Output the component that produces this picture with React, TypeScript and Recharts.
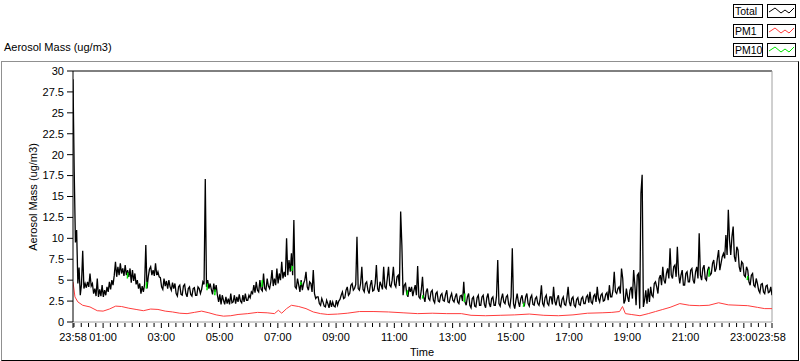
import React from 'react';
import { LineChart, Line, XAxis, YAxis, ReferenceLine } from 'recharts';

const FONT = '"Liberation Sans", Arial, sans-serif';

// Total aerosol mass, one reading every 2.5 min from 23:58 (minute 0); one row per hour
const TOTAL_STEP = 2.5;
const TOTAL = [
  29, 18, 9.5, 11, 4.6, 6.5, 3.2, 4.5, 8.5, 4.0, 4.6, 4.1, 4.8, 4.2, 5.8, 4.3, 4.6, 3.4, 4.0, 3.1, 5.2, 3.0, 3.9, 3.1,
  4.4, 3.0, 3.8, 3.2, 4.2, 3.6, 4.8, 3.9, 5.0, 4.4, 5.6, 7.2, 5.4, 6.6, 5.6, 7.0, 5.8, 6.4, 5.5, 6.8, 5.6, 6.2, 5.4, 6.4,
  4.7, 6.2, 4.9, 5.8, 4.5, 5.0, 4.0, 4.6, 3.4, 4.3, 3.6, 4.5, 9.2, 4.0, 5.4, 6.3, 6.6, 5.6, 6.2, 5.5, 7.0, 5.6, 6.0, 5.4,
  5.3, 4.2, 3.9, 5.2, 4.3, 4.9, 4.0, 5.0, 4.2, 3.8, 4.7, 4.0, 4.6, 3.4, 3.1, 4.2, 4.4, 3.3, 3.2, 4.3, 4.5, 3.4, 3.0, 4.0,
  4.2, 3.3, 3.1, 4.0, 4.1, 3.2, 3.2, 4.2, 4.0, 3.4, 3.9, 4.8, 4.5, 17.1, 4.2, 5.0, 4.0, 4.6, 3.9, 3.3, 4.6, 3.6, 4.4, 3.2,
  2.4, 3.3, 2.1, 3.2, 2.6, 2.1, 3.0, 2.2, 2.8, 2.1, 3.4, 2.3, 2.4, 3.2, 2.2, 3.0, 2.4, 3.3, 2.5, 2.3, 3.2, 2.4, 3.4, 2.6,
  2.6, 3.2, 2.9, 3.6, 3.4, 4.4, 3.5, 4.8, 3.8, 3.6, 5.0, 3.9, 3.7, 5.8, 4.0, 3.8, 5.2, 4.3, 4.0, 4.8, 6.2, 4.3, 5.2, 4.4,
  6.4, 4.6, 5.8, 5.0, 7.2, 5.2, 6.0, 5.4, 10.0, 5.6, 7.4, 6.0, 8.2, 5.6, 12.2, 4.2, 4.0, 5.2, 4.4, 3.6, 5.0, 3.8, 4.6, 5.0,
  6.0, 4.2, 3.8, 4.8, 4.6, 3.6, 6.2, 3.4, 2.8, 3.0, 3.0, 2.2, 2.0, 2.8, 2.4, 1.9, 1.8, 2.6, 2.2, 1.7, 2.6, 1.8, 2.4, 1.9,
  1.8, 2.6, 2.0, 2.5, 2.7, 3.2, 3.6, 2.8, 2.9, 3.8, 4.2, 3.2, 3.4, 4.4, 4.6, 3.8, 4.0, 4.5, 10.2, 4.0, 3.8, 4.6, 6.6, 3.9,
  3.6, 4.6, 4.8, 3.8, 3.4, 4.4, 5.0, 3.7, 3.8, 4.6, 6.8, 4.0, 3.6, 4.8, 4.4, 3.9, 6.6, 4.2, 4.0, 5.2, 6.6, 4.4, 4.2, 5.0,
  6.6, 4.5, 4.2, 5.4, 5.6, 4.3, 13.2, 9.2, 3.2, 4.4, 4.6, 3.4, 3.0, 4.2, 3.6, 4.2, 3.1, 3.8, 4.4, 3.2, 6.7, 3.0, 2.8, 3.8,
  5.4, 3.0, 2.4, 3.6, 4.0, 2.8, 2.6, 3.6, 3.8, 2.6, 2.3, 3.4, 3.6, 2.5, 2.4, 3.2, 3.4, 2.6, 2.5, 3.3, 3.8, 2.4, 2.3, 3.0,
  3.4, 2.6, 2.4, 3.0, 3.4, 2.4, 2.2, 3.1, 3.2, 2.5, 4.8, 2.4, 2.0, 3.0, 3.4, 2.0, 1.7, 2.8, 3.0, 1.9, 1.8, 2.9, 3.2, 2.0,
  2.0, 3.0, 3.2, 2.1, 1.7, 2.9, 3.4, 2.2, 1.8, 2.8, 3.0, 2.0, 2.0, 3.1, 7.4, 2.2, 1.9, 2.8, 3.4, 2.4, 2.2, 3.0, 3.2, 2.1,
  1.8, 3.0, 8.8, 2.2, 1.6, 2.6, 3.4, 2.4, 1.8, 2.8, 3.2, 2.2, 2.0, 3.0, 3.4, 2.2, 1.9, 2.9, 3.2, 2.1, 2.0, 2.8, 3.0, 2.2,
  2.0, 2.8, 4.4, 2.2, 1.9, 2.9, 3.2, 2.2, 2.0, 3.0, 3.0, 2.1, 4.2, 2.5, 2.0, 2.8, 3.2, 2.0, 1.8, 2.7, 3.0, 2.1, 2.0, 2.9,
  4.2, 2.4, 1.9, 2.8, 3.0, 2.0, 1.8, 2.7, 2.9, 2.1, 2.0, 2.8, 3.0, 2.2, 2.2, 3.0, 3.2, 2.3, 3.6, 2.4, 2.2, 3.1, 3.3, 2.4,
  4.2, 2.8, 2.4, 3.2, 3.4, 2.5, 2.6, 3.3, 3.5, 2.6, 4.4, 3.0, 3.0, 3.8, 6.0, 3.6, 3.4, 4.0, 4.2, 3.4, 6.4, 5.2, 2.2, 2.6,
  4.0, 3.0, 2.4, 3.8, 4.2, 2.8, 6.2, 4.4, 2.0, 5.6, 5.8, 1.6, 15.4, 17.6, 1.8, 2.6, 3.8, 2.2, 4.0, 2.4, 4.2, 3.2, 3.0, 4.6,
  4.8, 4.2, 3.4, 5.2, 5.6, 4.4, 6.6, 5.0, 4.6, 5.8, 6.4, 5.2, 8.8, 5.6, 5.2, 6.6, 6.8, 5.4, 9.0, 5.8, 4.6, 5.6, 6.2, 4.4,
  4.4, 5.8, 6.0, 4.8, 4.8, 6.2, 6.4, 5.0, 4.6, 6.0, 6.6, 5.2, 10.6, 5.6, 5.0, 6.4, 6.8, 5.2, 5.0, 6.2, 6.6, 5.6, 5.8, 7.0,
  7.4, 6.0, 6.4, 7.6, 8.6, 6.2, 7.0, 7.8, 8.2, 7.6, 10.4, 8.0, 13.4, 9.8, 8.0, 10.2, 11.4, 7.8, 7.2, 9.0, 8.6, 6.6, 6.0, 7.2,
  7.0, 5.6, 5.4, 6.6, 6.2, 4.8, 4.4, 5.6, 5.8, 4.4, 4.2, 5.2, 4.6, 3.8, 3.5, 4.5, 4.6, 3.6, 3.4, 4.3, 4.4, 3.5, 3.6, 4.2,
  3.2,
];

// PM1 (minutes after 23:58 / ug/m3)
const PM1_T = [
  0, 4, 10, 20, 35, 50, 62, 75, 88, 100, 115, 130, 145, 160, 175, 190, 205, 220,
  235, 250, 265, 280, 295, 310, 325, 340, 360, 380, 400, 415, 423, 430, 440, 450,
  465, 480, 495, 510, 525, 545, 565, 590, 620, 650, 680, 710, 740, 770, 800, 820,
  850, 880, 910, 940, 970, 1000, 1030, 1060, 1090, 1110, 1126, 1132, 1138, 1150,
  1168, 1185, 1200, 1215, 1230, 1250, 1270, 1290, 1310, 1330, 1350, 1370, 1390,
  1410, 1425, 1440,
];
const PM1_V = [
  4.8, 3.0, 2.4, 2.0, 1.8, 1.35, 1.3, 1.55, 1.9, 1.85, 1.65, 1.5, 1.35, 1.55, 1.5, 1.3, 1.2, 1.05,
  1.0, 1.15, 1.3, 1.1, 0.85, 0.7, 0.75, 0.9, 1.0, 1.15, 1.1, 1.0, 1.4, 1.05, 1.6, 2.0,
  1.85, 1.6, 1.2, 1.0, 0.9, 0.95, 1.05, 1.25, 1.25, 1.2, 1.1, 1.0, 1.05, 1.0, 1.0, 0.8,
  0.75, 0.8, 0.85, 0.95, 0.8, 0.75, 0.85, 1.05, 1.1, 1.15, 1.25, 1.85, 1.0, 0.9,
  0.75, 1.0, 1.25, 1.5, 1.75, 2.2, 2.0, 1.95, 2.0, 2.3, 2.05, 2.0, 1.95,
  1.75, 1.6, 1.6,
];

// PM10 shows only in short pieces where it peeks out from under Total
const PM10_T = [
  112, 113, 114, 151, 152, 153, 276, 277, 278, 292, 293, 294, 389, 390, 391,
  451, 452, 453, 469, 470, 471, 688, 689, 690, 720, 721, 722, 806, 807, 808,
  928, 929, 930, 1310, 1311, 1312, 1389, 1390, 1391,
];
const PM10_V = [
  5.2, 5.9, null, 4.0, 4.8, null, 3.8, 4.6, null, 3.2, 3.9, null, 4.2, 5.0, null,
  6.1, 6.7, null, 4.4, 4.8, null, 3.2, 3.8, null, 2.8, 3.2, null, 2.4, 3.4, null,
  1.8, 2.3, null, 5.4, 6.4, null, 5.0, 5.5, null,
];

const Y_TICKS = [0, 2.5, 5, 7.5, 10, 12.5, 15, 17.5, 20, 22.5, 25, 27.5, 30];
const TIME_TICKS = [0, 62, 182, 302, 422, 542, 662, 782, 902, 1022, 1142, 1262, 1382, 1440];
const TIME_LABELS = [
  '23:58', '01:00', '03:00', '05:00', '07:00', '09:00', '11:00',
  '13:00', '15:00', '17:00', '19:00', '21:00', '23:00', '23:58',
];
const MINOR_FIRST = 2; // 00:00
const MINOR_STEP = 15;

const totalData = TOTAL.map((v, i) => ({ t: i * TOTAL_STEP, v }));
const pm1Data = PM1_T.map((t, i) => ({ t, v: PM1_V[i] }));
const pm10Data = PM10_T.map((t, i) => ({ t, v: PM10_V[i] }));

const minorTicks: number[] = [];
for (let m = MINOR_FIRST; m < 1440; m += MINOR_STEP) minorTicks.push(m);
const allTicks = Array.from(new Set([...TIME_TICKS, ...minorTicks])).sort((a, b) => a - b);

function TimeTick(props: any) {
  const { x, y, payload } = props;
  const idx = TIME_TICKS.indexOf(payload.value);
  const major = idx >= 0;
  return (
    <g>
      <line x1={x} x2={x} y1={y + 1} y2={y + (major ? 6 : 5)} stroke="#000" />
      {major && (
        <text x={x} y={y + 19} textAnchor="middle" fontSize={11} fill="#000">
          {TIME_LABELS[idx]}
        </text>
      )}
    </g>
  );
}

const LEGEND = [
  { name: 'Total', color: '#000000', top: 4 },
  { name: 'PM1', color: '#ff3c3c', top: 24 },
  { name: 'PM10', color: '#00e400', top: 43 },
];

function Legend() {
  return (
    <>
      {LEGEND.map((l) => (
        <React.Fragment key={l.name}>
          <div
            style={{
              position: 'absolute', left: 733, top: l.top, width: 30, height: 14,
              boxSizing: 'border-box', border: '1px solid #000', background: '#fff',
              fontSize: 10.5, lineHeight: '12px', paddingLeft: 1, whiteSpace: 'nowrap',
              overflow: 'hidden',
            }}
          >
            {l.name}
          </div>
          <div
            style={{
              position: 'absolute', left: 767, top: l.top, width: 29, height: 14,
              boxSizing: 'border-box', border: '1px solid #000', background: '#fff',
            }}
          >
            <svg width={27} height={12} style={{ display: 'block' }}>
              <polyline
                points="1,7 7,3 13,8 17,5 21,8 26,3"
                fill="none"
                stroke={l.color}
                strokeWidth={1}
              />
            </svg>
          </div>
        </React.Fragment>
      ))}
    </>
  );
}

export default function App() {
  return (
    <div
      style={{
        position: 'absolute', left: 0, top: 0, width: 800, height: 361,
        background: '#fff', fontFamily: FONT, color: '#000',
      }}
    >
      <div
        style={{
          position: 'absolute', left: 1, top: 61, width: 798, height: 300,
          boxSizing: 'border-box', borderTop: '1px solid #909090',
          borderLeft: '1px solid #909090', borderRight: '1px solid #000',
          borderBottom: '1px solid #000',
        }}
      />
      <div style={{ position: 'absolute', left: 4, top: 41, fontSize: 11, whiteSpace: 'nowrap' }}>
        Aerosol Mass (ug/m3)
      </div>
      <div
        style={{
          position: 'absolute', left: 33, top: 197, fontSize: 11, whiteSpace: 'nowrap',
          transform: 'translate(-50%, -50%) rotate(-90deg)',
        }}
      >
        Aerosol Mass (ug/m3)
      </div>
      <div
        style={{
          position: 'absolute', left: 422, top: 352, fontSize: 11,
          transform: 'translate(-50%, -50%)',
        }}
      >
        Time
      </div>
      <Legend />
      <div style={{ position: 'absolute', left: 0, top: 0 }}>
        <LineChart width={800} height={361} margin={{ top: 71, right: 28, bottom: 0, left: 0 }}>
          <XAxis
            type="number"
            dataKey="t"
            domain={[0, 1440]}
            ticks={allTicks}
            interval={0}
            height={39}
            tickSize={0}
            tickMargin={0}
            tickLine={false}
            axisLine={{ stroke: '#a0a0a0' }}
            tick={<TimeTick />}
            allowDataOverflow
          />
          <YAxis
            type="number"
            dataKey="v"
            domain={[0, 30]}
            ticks={Y_TICKS}
            interval={0}
            width={73}
            tickSize={6}
            tickMargin={3}
            tickLine={{ stroke: '#000' }}
            axisLine={{ stroke: '#000' }}
            tick={{ fontSize: 11, fill: '#000' }}
            tickFormatter={(v: number) => String(v)}
            allowDataOverflow
          />
          <ReferenceLine y={30} stroke="#000" />
          <ReferenceLine x={1440} stroke="#a0a0a0" />
          <Line
            data={totalData}
            dataKey="v"
            stroke="#000"
            strokeWidth={1.3}
            dot={false}
            isAnimationActive={false}
            type="linear"
          />
          <Line
            data={pm1Data}
            dataKey="v"
            stroke="#ff3c3c"
            strokeWidth={1}
            dot={false}
            isAnimationActive={false}
            type="linear"
          />
          <Line
            data={pm10Data}
            dataKey="v"
            stroke="#00e400"
            strokeWidth={1.5}
            dot={false}
            connectNulls={false}
            isAnimationActive={false}
            type="linear"
          />
        </LineChart>
      </div>
    </div>
  );
}
